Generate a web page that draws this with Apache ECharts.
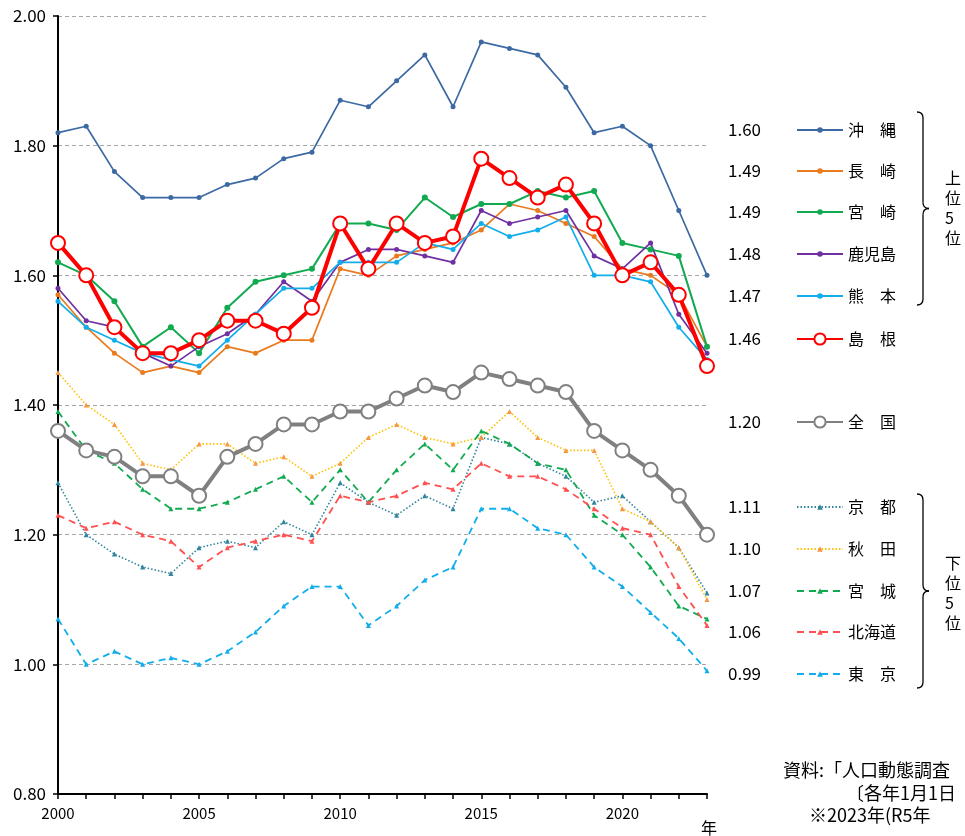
<!DOCTYPE html>
<html>
<head>
<meta charset="utf-8">
<script src="https://cdn.jsdelivr.net/npm/echarts@6/dist/echarts.min.js"></script>
<style>
  html, body { margin: 0; padding: 0; background: #fff; }
  #app { width: 965px; height: 836px; }
</style>
</head>
<body>
<div id="app"></div>
<script>
// 年
const years = [];
for (let y = 2000; y <= 2023; y++) years.push(String(y));

// 合計特殊出生率（各都道府県）
const okinawa   = [1.82,1.83,1.76,1.72,1.72,1.72,1.74,1.75,1.78,1.79,1.87,1.86,1.90,1.94,1.86,1.96,1.95,1.94,1.89,1.82,1.83,1.80,1.70,1.60];
const nagasaki  = [1.57,1.52,1.48,1.45,1.46,1.45,1.49,1.48,1.50,1.50,1.61,1.60,1.63,1.64,1.65,1.67,1.71,1.70,1.68,1.66,1.61,1.60,1.57,1.49];
const miyazaki  = [1.62,1.60,1.56,1.49,1.52,1.48,1.55,1.59,1.60,1.61,1.68,1.68,1.67,1.72,1.69,1.71,1.71,1.73,1.72,1.73,1.65,1.64,1.63,1.49];
const kagoshima = [1.58,1.53,1.52,1.48,1.46,1.49,1.51,1.54,1.59,1.56,1.62,1.64,1.64,1.63,1.62,1.70,1.68,1.69,1.70,1.63,1.61,1.65,1.54,1.48];
const kumamoto  = [1.56,1.52,1.50,1.48,1.47,1.46,1.50,1.54,1.58,1.58,1.62,1.62,1.62,1.65,1.64,1.68,1.66,1.67,1.69,1.60,1.60,1.59,1.52,1.47];
const shimane   = [1.65,1.60,1.52,1.48,1.48,1.50,1.53,1.53,1.51,1.55,1.68,1.61,1.68,1.65,1.66,1.78,1.75,1.72,1.74,1.68,1.60,1.62,1.57,1.46];
const zenkoku   = [1.36,1.33,1.32,1.29,1.29,1.26,1.32,1.34,1.37,1.37,1.39,1.39,1.41,1.43,1.42,1.45,1.44,1.43,1.42,1.36,1.33,1.30,1.26,1.20];
const kyoto     = [1.28,1.20,1.17,1.15,1.14,1.18,1.19,1.18,1.22,1.20,1.28,1.25,1.23,1.26,1.24,1.35,1.34,1.31,1.29,1.25,1.26,1.22,1.18,1.11];
const akita     = [1.45,1.40,1.37,1.31,1.30,1.34,1.34,1.31,1.32,1.29,1.31,1.35,1.37,1.35,1.34,1.35,1.39,1.35,1.33,1.33,1.24,1.22,1.18,1.10];
const miyagi    = [1.39,1.33,1.31,1.27,1.24,1.24,1.25,1.27,1.29,1.25,1.30,1.25,1.30,1.34,1.30,1.36,1.34,1.31,1.30,1.23,1.20,1.15,1.09,1.07];
const hokkaido  = [1.23,1.21,1.22,1.20,1.19,1.15,1.18,1.19,1.20,1.19,1.26,1.25,1.26,1.28,1.27,1.31,1.29,1.29,1.27,1.24,1.21,1.20,1.12,1.06];
const tokyo     = [1.07,1.00,1.02,1.00,1.01,1.00,1.02,1.05,1.09,1.12,1.12,1.06,1.09,1.13,1.15,1.24,1.24,1.21,1.20,1.15,1.12,1.08,1.04,0.99];

// 凡例の名前
const names = ['沖　縄','長　崎','宮　崎','鹿児島','熊　本','島　根','全　国','京　都','秋　田','宮　城','北海道','東　京'];
const values = [okinawa, nagasaki, miyazaki, kagoshima, kumamoto, shimane, zenkoku, kyoto, akita, miyagi, hokkaido, tokyo];

// 見た目（色・線種）
const styles = [
  { color: '#3D69A3', width: 1.7, symbol: 'circle', size: 5 },
  { color: '#E97A1E', width: 1.7, symbol: 'circle', size: 5 },
  { color: '#12AA50', width: 2, symbol: 'circle', size: 6 },
  { color: '#7030A0', width: 1.7, symbol: 'circle', size: 5 },
  { color: '#12ADEB', width: 1.7, symbol: 'circle', size: 5 },
  { color: '#FF0000', width: 4, symbol: 'emptyCircle', size: 14, border: 3.2, z: 20 },
  { color: '#808080', width: 4, symbol: 'emptyCircle', size: 14, border: 3.2, z: 15 },
  { color: '#31859C', width: 1.6, symbol: 'triangle', size: 5, type: [1.5, 2] },
  { color: '#FFC000', marker: '#F79646', width: 1.6, symbol: 'triangle', size: 5, type: [1.5, 2] },
  { color: '#12AA50', width: 1.8, symbol: 'triangle', size: 5, type: [7, 5] },
  { color: '#FF5050', width: 1.8, symbol: 'triangle', size: 5, type: [7, 5] },
  { color: '#12ADEB', width: 1.8, symbol: 'triangle', size: 5, type: [7, 5] }
];

// 凡例の行位置
const rowY = [132, 173, 214, 256, 298, 341, 424, 509, 551, 593, 634, 676];

const FONT = '"Noto Sans CJK JP", "Noto Sans", sans-serif';

const myChart = echarts.init(document.getElementById('app'));

// 系列
const series = names.map(function(name, i) {
  const s = styles[i];
  return {
    name: name,
    type: 'line',
    data: values[i],
    symbol: s.symbol,
    symbolSize: s.size,
    z: s.z || 2,
    lineStyle: { color: s.color, width: s.width, type: s.type || 'solid' },
    itemStyle: {
      color: s.marker || s.color,
      borderWidth: s.border || 0
    },
    emphasis: { disabled: true },
    animation: false
  };
});

// 凡例（行ごとに1つ）
const legends = names.map(function(name, i) {
  const big = styles[i].symbol === 'emptyCircle';
  return {
    left: 796,
    top: rowY[i] - 10,
    padding: 0,
    orient: 'horizontal',
    itemWidth: 46,
    itemHeight: big ? 14 : 7,
    itemGap: 0,
    selectedMode: false,
    data: [name],
    textStyle: { fontSize: 16, fontFamily: FONT, color: '#000' }
  };
});

// 最新値ラベル
const graphics = names.map(function(name, i) {
  const v = values[i];
  return {
    type: 'text',
    left: 728,
    top: rowY[i] - 11,
    style: { text: v[v.length - 1].toFixed(2), fontSize: 17, fontFamily: FONT, fill: '#000' }
  };
});

// 中括弧
function brace(x, y1, y2) {
  const m = (y1 + y2) / 2;
  const st = { fill: null, stroke: '#000', lineWidth: 1.3 };
  const parts = [
    { type: 'bezierCurve', shape: { x1: x - 6, y1: y1, x2: x, y2: y1 + 6, cpx1: x, cpy1: y1 } },
    { type: 'line', shape: { x1: x, y1: y1 + 6, x2: x, y2: m - 6 } },
    { type: 'bezierCurve', shape: { x1: x, y1: m - 6, x2: x + 6, y2: m, cpx1: x, cpy1: m } },
    { type: 'bezierCurve', shape: { x1: x + 6, y1: m, x2: x, y2: m + 6, cpx1: x, cpy1: m } },
    { type: 'line', shape: { x1: x, y1: m + 6, x2: x, y2: y2 - 6 } },
    { type: 'bezierCurve', shape: { x1: x, y1: y2 - 6, x2: x - 6, y2: y2, cpx1: x, cpy1: y2 } }
  ];
  parts.forEach(function(p) { p.style = st; });
  return parts;
}
brace(923, 112, 305).forEach(function(p) { graphics.push(p); });
brace(923, 494, 688).forEach(function(p) { graphics.push(p); });

graphics.push({
  type: 'text', left: 945, top: 168,
  style: { text: '上\n位\n5\n位', fontSize: 16, lineHeight: 20, fontFamily: FONT, fill: '#000', align: 'center' }
});
graphics.push({
  type: 'text', left: 945, top: 553,
  style: { text: '下\n位\n5\n位', fontSize: 16, lineHeight: 20, fontFamily: FONT, fill: '#000', align: 'center' }
});

// 資料注記
graphics.push({ type: 'text', left: 783, top: 761, style: { text: '資料:「人口動態調査', fontSize: 18, fontFamily: FONT, fill: '#000' } });
graphics.push({ type: 'text', left: 846, top: 784, style: { text: '〔各年1月1日', fontSize: 18, fontFamily: FONT, fill: '#000' } });
graphics.push({ type: 'text', left: 809, top: 806, style: { text: '※2023年(R5年', fontSize: 18, fontFamily: FONT, fill: '#000' } });
graphics.push({ type: 'text', left: 701, top: 820, style: { text: '年', fontSize: 16, fontFamily: FONT, fill: '#000' } });

myChart.setOption({
  animation: false,
  grid: { left: 58, right: 258, top: 16, bottom: 42 },
  legend: legends,
  xAxis: {
    type: 'category',
    boundaryGap: false,
    data: years,
    axisLine: { lineStyle: { color: '#000', width: 2 } },
    axisTick: { interval: 0, length: 5, lineStyle: { color: '#000', width: 1.5 } },
    axisLabel: {
      interval: function(index) { return index % 5 === 0; },
      fontSize: 15, fontFamily: FONT, color: '#000', margin: 12
    },
    splitLine: { show: false }
  },
  yAxis: {
    type: 'value',
    min: 0.8,
    max: 2.0,
    interval: 0.2,
    axisLine: { show: true, lineStyle: { color: '#000', width: 2 } },
    axisTick: { show: true, length: 5, lineStyle: { color: '#000', width: 1.5 } },
    axisLabel: {
      formatter: function(v) { return v.toFixed(2); },
      fontSize: 17, fontFamily: FONT, color: '#000', margin: 12
    },
    splitLine: { lineStyle: { color: '#A6A6A6', type: [4, 3], width: 1 } }
  },
  series: series,
  graphic: graphics
});
</script>
</body>
</html>
